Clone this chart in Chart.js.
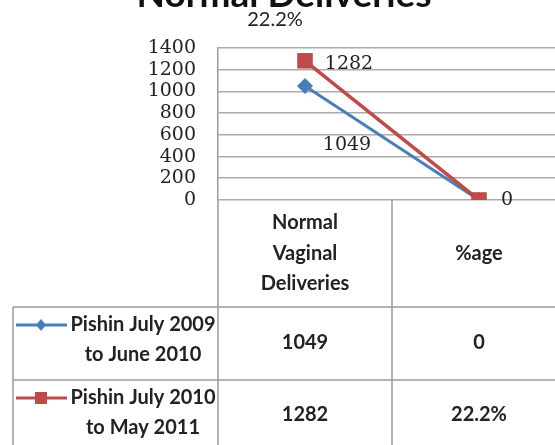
<!DOCTYPE html>
<html><head><meta charset="utf-8">
<script src="https://cdn.jsdelivr.net/npm/chart.js@4.4.1/dist/chart.umd.min.js"></script>
<style>
html,body{margin:0;padding:0;overflow:hidden;background:#fff;width:555px;height:445px}
#wrap{position:absolute;left:0;top:0;width:600px;height:445px}
</style></head><body>
<div id="wrap"><canvas id="c" width="600" height="445"></canvas></div>
<script>
// ---- data ----
const chartTitle = 'Normal Deliveries';
const categories = [['Normal', 'Vaginal', 'Deliveries'], ['%age']];
const seriesNames = [['Pishin July 2009', 'to June 2010'], ['Pishin July 2010', 'to May 2011']];
const pishin0910 = [1049, 0];
const pishin1011 = [1282, 0.222];
const yTickValues = [0, 200, 400, 600, 800, 1000, 1200, 1400];

// ---- styles ----
const BLUE = '#4A7EBB', RED = '#BE4B48', GRID = '#ababab', TABLE = '#9c9c9c';
const SANS = 'Lato, "Open Sans", sans-serif';
const SERIF = '"DejaVu Serif", "Liberation Serif", serif';
const TEXT = '#222';

function fmt(v, ci) { return (ci === 1 && v !== 0) ? (v * 100).toFixed(1) + '%' : String(v); }

// label placement (pixel offsets from the point, and font) per dataset / point
const labelStyle = [
  [{dx: 42, dy: 59, font: '19px ' + SERIF}, {dx: 28, dy: 0, font: '19px ' + SERIF}],
  [{dx: 44, dy: 3, font: '19px ' + SERIF}, {dx: -204, dy: -180, font: '20px ' + SANS}]
];

const titlePlugin = {
  id: 'titleTop',
  afterDraw(chart) {
    const ctx = chart.ctx;
    ctx.save();
    ctx.font = 'bold 37px ' + SANS;
    ctx.fillStyle = '#111';
    ctx.textAlign = 'center';
    ctx.textBaseline = 'alphabetic';
    ctx.fillText(chartTitle, 284, 7);
    ctx.restore();
  }
};

const labelPlugin = {
  id: 'pointLabels',
  afterDatasetsDraw(chart) {
    const ctx = chart.ctx;
    ctx.save();
    ctx.textAlign = 'center';
    ctx.textBaseline = 'middle';
    ctx.fillStyle = TEXT;
    chart.data.datasets.forEach((ds, di) => {
      const meta = chart.getDatasetMeta(di);
      meta.data.forEach((pt, pi) => {
        const st = labelStyle[di][pi];
        ctx.font = st.font;
        ctx.fillText(fmt(ds.data[pi], pi), pt.x + st.dx, pt.y + st.dy);
      });
    });
    ctx.restore();
  }
};

const tablePlugin = {
  id: 'dataTable',
  afterDraw(chart) {
    const ctx = chart.ctx, a = chart.chartArea, xs = chart.scales.x;
    const c0 = xs.getPixelForValue(0), c1 = xs.getPixelForValue(1);
    const mid = (c0 + c1) / 2;
    const top = a.bottom, hdrBot = 307, r1Bot = 380, r2Bot = 452, leftEdge = 13;
    ctx.save();
    ctx.strokeStyle = TABLE;
    ctx.lineWidth = 1.5;
    ctx.beginPath();
    ctx.moveTo(a.left, top); ctx.lineTo(a.left, r2Bot);
    ctx.moveTo(mid, top); ctx.lineTo(mid, r2Bot);
    ctx.moveTo(a.right, top); ctx.lineTo(a.right, r2Bot);
    ctx.moveTo(leftEdge, hdrBot); ctx.lineTo(leftEdge, r2Bot);
    ctx.moveTo(leftEdge, hdrBot); ctx.lineTo(a.right, hdrBot);
    ctx.moveTo(leftEdge, r1Bot); ctx.lineTo(a.right, r1Bot);
    ctx.stroke();

    ctx.fillStyle = TEXT;
    ctx.textAlign = 'center';
    ctx.textBaseline = 'middle';
    ctx.font = 'bold 20px ' + SANS;
    const lh = 30.5;
    const hc = (top + hdrBot) / 2;
    categories.forEach((lines, i) => {
      const cx = xs.getPixelForValue(i);
      lines.forEach((t, k) => ctx.fillText(t, cx, hc + (k - (lines.length - 1) / 2) * lh));
    });
    const rows = [[hdrBot, r1Bot, 343], [r1Bot, r2Bot, 415]];
    chart.data.datasets.forEach((ds, di) => {
      const [rt, rb, rc] = rows[di];
      ds.data.forEach((v, ci) => ctx.fillText(fmt(v, ci), xs.getPixelForValue(ci), rc));
      const names = seriesNames[di];
      const y1 = rt + 18;
      names.forEach((t, k) => ctx.fillText(t, 143, y1 + k * 30));
      ctx.save();
      ctx.strokeStyle = ds.borderColor;
      ctx.lineWidth = 3;
      ctx.beginPath(); ctx.moveTo(16, y1); ctx.lineTo(67, y1); ctx.stroke();
      ctx.fillStyle = ds.backgroundColor;
      ctx.beginPath();
      if (di === 0) { ctx.moveTo(41, y1 - 6); ctx.lineTo(46, y1); ctx.lineTo(41, y1 + 6); ctx.lineTo(36, y1); ctx.closePath(); }
      else { ctx.rect(35, y1 - 6, 12, 12); }
      ctx.fill();
      ctx.restore();
    });
    ctx.restore();
  }
};

new Chart(document.getElementById('c'), {
  type: 'line',
  data: {
    labels: categories,
    datasets: [
      {label: seriesNames[0].join(' '), data: pishin0910, borderColor: BLUE, backgroundColor: BLUE,
       borderWidth: 3, pointStyle: 'rectRot', pointRadius: 8, pointBorderWidth: 0, order: 1},
      {label: seriesNames[1].join(' '), data: pishin1011, borderColor: RED, backgroundColor: RED,
       borderWidth: 3.5, pointStyle: 'rect', pointRadius: 11, pointBorderWidth: 0, order: 0}
    ]
  },
  options: {
    responsive: false, animation: false, devicePixelRatio: 1,
    layout: {padding: {left: 0, top: 48, right: 34, bottom: 245}},
    plugins: {legend: {display: false}, title: {display: false}, tooltip: {enabled: false}},
    scales: {
      x: {
        offset: true,
        grid: {display: false, drawTicks: false},
        border: {display: false},
        ticks: {display: false},
        afterFit(s) { s.height = 0; }
      },
      y: {
        min: 0, max: 1400,
        afterBuildTicks(s) { s.ticks = yTickValues.map(v => ({value: v})); },
        grid: {color: GRID, lineWidth: 1.6, drawTicks: false},
        border: {display: true, color: TABLE, width: 1.5},
        ticks: {autoSkip: false, padding: 22, color: TEXT, font: {family: SERIF, size: 19},
                callback: v => String(v)},
        afterFit(s) { s.width = 218; }
      }
    }
  },
  plugins: [labelPlugin, tablePlugin, titlePlugin]
});
</script>
</body></html>
